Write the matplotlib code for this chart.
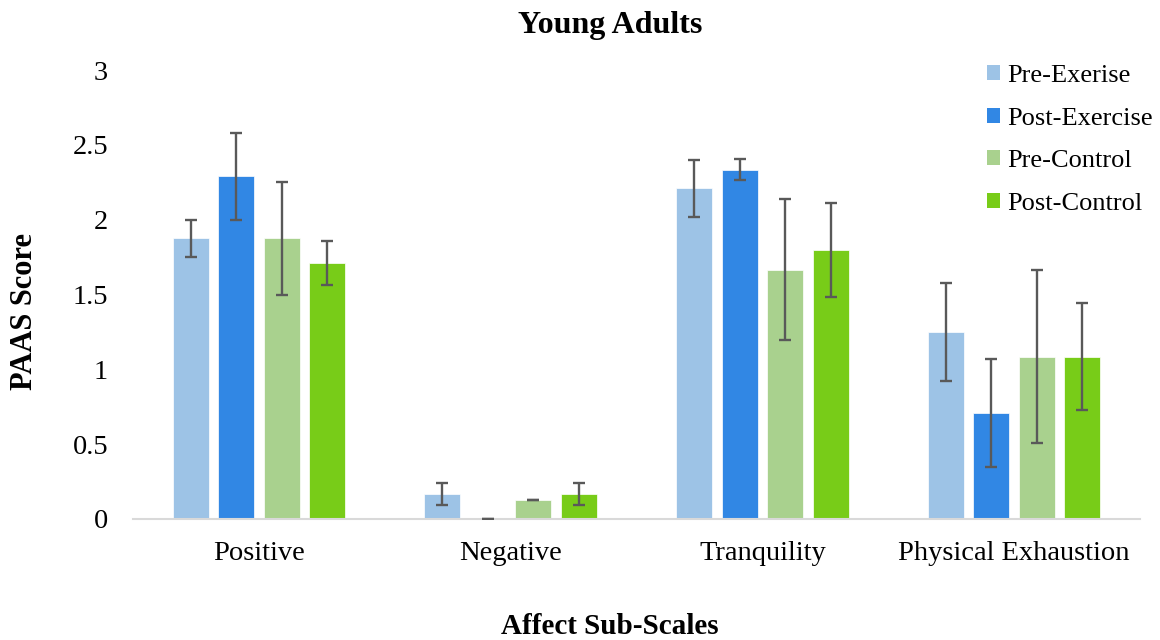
import numpy as np
import matplotlib.pyplot as plt
from matplotlib.patches import Patch

# PAAS sub-scale means and error bar half-widths
scales = ['Positive', 'Negative', 'Tranquility', 'Physical Exhaustion']
groups = ['Pre-Exerise', 'Post-Exercise', 'Pre-Control', 'Post-Control']
pre_ex = [1.875, 0.167, 2.21, 1.25]
post_ex = [2.29, 0.0, 2.335, 0.71]
pre_ctl = [1.875, 0.125, 1.667, 1.085]
post_ctl = [1.71, 0.167, 1.795, 1.085]
pre_ex_err = [0.125, 0.073, 0.19, 0.33]
post_ex_err = [0.29, 0.0, 0.073, 0.36]
pre_ctl_err = [0.375, 0.0, 0.474, 0.58]
post_ctl_err = [0.145, 0.073, 0.315, 0.36]

colors = ['#9DC3E6', '#3187E4', '#A9D18E', '#78CC18']

plt.rcParams['font.family'] = ['Liberation Serif', 'DejaVu Serif']

fig = plt.figure(figsize=(11.6, 6.4), dpi=100)
ax = fig.add_axes([133/1160, 121/640, 1007/1160, 449/640])

x = np.arange(len(scales))
width = 0.143
step = 0.181
series = [pre_ex, post_ex, pre_ctl, post_ctl]
errs = [pre_ex_err, post_ex_err, pre_ctl_err, post_ctl_err]
for i, (vals, err) in enumerate(zip(series, errs)):
   pos = x + (i - 1.5)*step
   ax.bar(pos, vals, width, color=colors[i], edgecolor='white', linewidth=0.5, zorder=2)
   ax.errorbar(pos, vals, yerr=err, fmt='none', ecolor='#595959', elinewidth=1.7,
               capsize=4.5, capthick=1.7, zorder=3)

ax.set_xlim(-0.5, len(scales) - 0.5)
ax.set_ylim(0, 3)
ax.set_yticks([0, 0.5, 1, 1.5, 2, 2.5, 3])
ax.set_yticklabels(['0', '0.5', '1', '1.5', '2', '2.5', '3'])
ax.set_xticks(x)
ax.set_xticklabels(scales)
ax.tick_params(axis='both', length=0, labelsize=20.5)
ax.tick_params(axis='x', pad=16)
ax.tick_params(axis='y', pad=18)
for s in ['top', 'right', 'left']:
   ax.spines[s].set_visible(False)
ax.spines['bottom'].set_color('#d9d9d9')
ax.spines['bottom'].set_linewidth(1.5)

fig.text(610/1160, 1 - 25/640, 'Young Adults', ha='center', va='center', fontsize=23, fontweight='bold')
fig.text(610/1160, 1 - 627/640, 'Affect Sub-Scales', ha='center', va='center', fontsize=21, fontweight='bold')
fig.text(25/1160, 1 - 311/640, 'PAAS Score', ha='center', va='center', rotation=90, fontsize=22, fontweight='bold')

handles = [Patch(facecolor=c) for c in colors]
ax.legend(handles, groups, loc='upper left', bbox_to_anchor=(987/1160, 1 - 65/640),
          bbox_transform=fig.transFigure, frameon=False, fontsize=19,
          borderpad=0, borderaxespad=0,
          handlelength=0.5, handleheight=0.5, handletextpad=0.27, labelspacing=0.78)

fig.savefig('out.png', dpi=100)
